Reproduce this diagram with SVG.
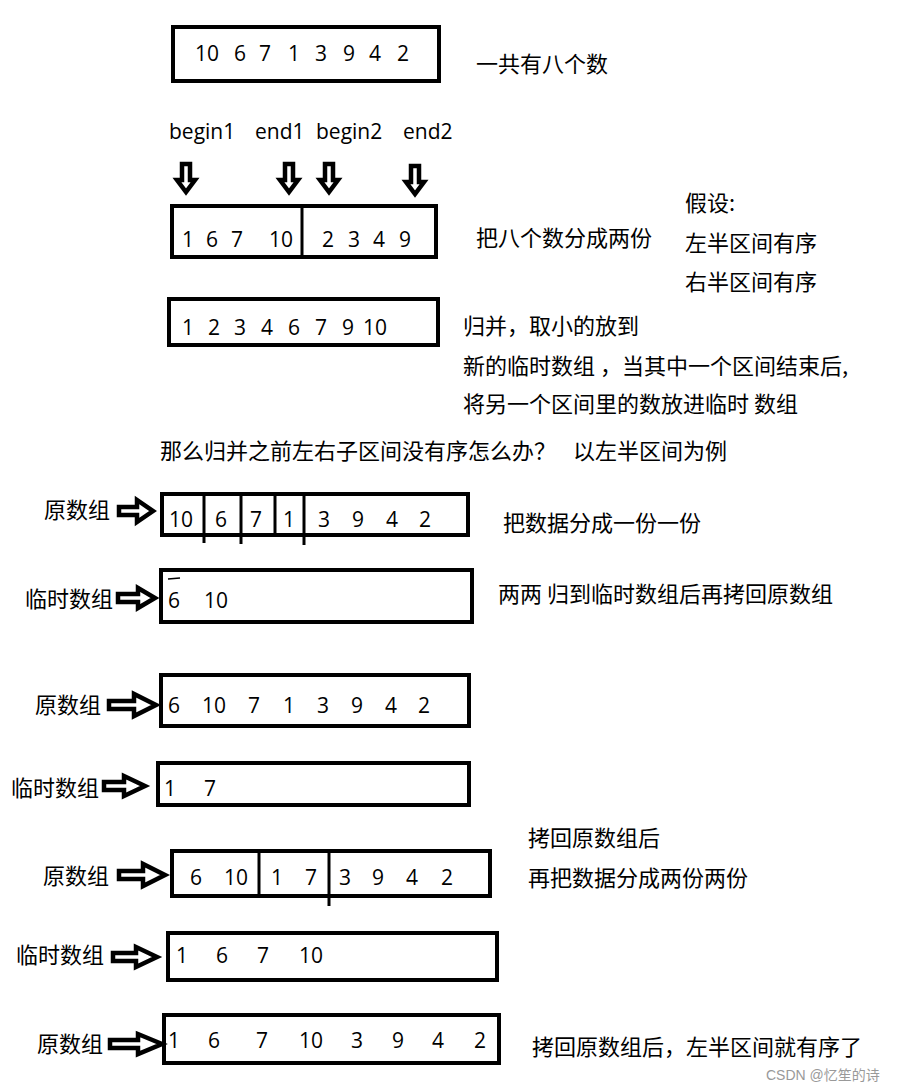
<svg xmlns="http://www.w3.org/2000/svg" width="918" height="1092" viewBox="0 0 918 1092">
<style>
.t{font-family:"Open Sans","Noto Sans CJK SC",sans-serif;font-size:21px;fill:#000}
.c{font-family:"Noto Sans CJK SC",sans-serif;font-size:22px;fill:#000}
.box{fill:none;stroke:#000;stroke-width:4}
.div{stroke:#000;stroke-width:3;fill:none}
.arr{fill:#fff;stroke:#000;stroke-width:4.5;stroke-linejoin:miter}
.wm{font-family:"Liberation Sans","Noto Sans CJK SC",sans-serif;font-size:14px;fill:#999}
</style>
<rect width="918" height="1092" fill="#fff"/>

<g id="box-original">
<rect class="box" x="173" y="27" width="266" height="54"/>
<text class="t" y="61"><tspan x="195">10</tspan><tspan x="234">6</tspan><tspan x="259">7</tspan><tspan x="288">1</tspan><tspan x="315">3</tspan><tspan x="343">9</tspan><tspan x="369">4</tspan><tspan x="397">2</tspan></text>
</g>
<text class="c" x="476" y="72">一共有八个数</text>

<g id="labels-pointers">
<text class="t" font-size="22" y="139"><tspan x="169">begin1</tspan><tspan x="255">end1</tspan><tspan x="316">begin2</tspan><tspan x="403">end2</tspan></text>
</g>

<g id="box-split">
<rect class="box" x="172" y="206" width="264" height="51"/>
<line class="div" x1="302" y1="206" x2="302" y2="257"/>
<text class="t" y="247"><tspan x="182">1</tspan><tspan x="206">6</tspan><tspan x="231">7</tspan><tspan x="269">10</tspan><tspan x="322">2</tspan><tspan x="348">3</tspan><tspan x="373">4</tspan><tspan x="399">9</tspan></text>
</g>
<text class="c" x="476" y="246">把八个数分成两份</text>
<text class="c" x="685" y="211">假设:</text>
<text class="c" x="685" y="251">左半区间有序</text>
<text class="c" x="685" y="290">右半区间有序</text>

<g id="box-merged">
<rect class="box" x="169" y="299" width="269" height="46"/>
<text class="t" y="335"><tspan x="182">1</tspan><tspan x="208">2</tspan><tspan x="234">3</tspan><tspan x="261">4</tspan><tspan x="288">6</tspan><tspan x="315">7</tspan><tspan x="342">9</tspan><tspan x="363">10</tspan></text>
</g>
<text class="c" x="463" y="334">归并，取小的放到</text>
<text class="c" x="463" y="374">新的临时数组 ，当其中一个区间结束后,</text>
<text class="c" x="463" y="412">将另一个区间里的数放进临时 数组</text>
<text class="c" x="160" y="459">那么归并之前左右子区间没有序怎么办？</text>
<text class="c" x="573" y="459">以左半区间为例</text>

<g id="row1">
<text class="c" x="44" y="518">原数组</text>
<rect class="box" x="162" y="494" width="306" height="41"/>
<line class="div" x1="204" y1="494" x2="204" y2="543"/>
<line class="div" x1="241" y1="494" x2="241" y2="544"/>
<line class="div" x1="275" y1="494" x2="275" y2="535"/>
<line class="div" x1="304" y1="494" x2="304" y2="545"/>
<text class="t" y="527"><tspan x="169">10</tspan><tspan x="215">6</tspan><tspan x="250">7</tspan><tspan x="283">1</tspan><tspan x="318">3</tspan><tspan x="352">9</tspan><tspan x="386">4</tspan><tspan x="419">2</tspan></text>
</g>
<text class="c" x="503" y="531">把数据分成一份一份</text>

<g id="row2">
<text class="c" x="25" y="607">临时数组</text>
<rect class="box" x="161" y="570" width="311" height="52"/>
<line x1="168" y1="579" x2="180" y2="578" stroke="#000" stroke-width="1.5"/>
<text class="t" y="608"><tspan x="168">6</tspan><tspan x="204">10</tspan></text>
</g>
<text class="c" x="498" y="602">两两 归到临时数组后再拷回原数组</text>

<g id="row3">
<text class="c" x="35" y="713">原数组</text>
<rect class="box" x="161" y="675" width="308" height="51"/>
<text class="t" y="713"><tspan x="168">6</tspan><tspan x="202">10</tspan><tspan x="248">7</tspan><tspan x="283">1</tspan><tspan x="317">3</tspan><tspan x="351">9</tspan><tspan x="385">4</tspan><tspan x="418">2</tspan></text>
</g>

<g id="row4">
<text class="c" x="11" y="796">临时数组</text>
<rect class="box" x="158" y="763" width="311" height="42"/>
<text class="t" y="796"><tspan x="164">1</tspan><tspan x="204">7</tspan></text>
</g>
<text class="c" x="528" y="846">拷回原数组后</text>
<text class="c" x="528" y="886">再把数据分成两份两份</text>

<g id="row5">
<text class="c" x="43" y="884">原数组</text>
<rect class="box" x="172" y="851" width="318" height="45"/>
<line class="div" x1="259" y1="851" x2="259" y2="896"/>
<line class="div" x1="329" y1="851" x2="329" y2="906"/>
<text class="t" y="885"><tspan x="190">6</tspan><tspan x="224">10</tspan><tspan x="271">1</tspan><tspan x="305">7</tspan><tspan x="339">3</tspan><tspan x="372">9</tspan><tspan x="406">4</tspan><tspan x="441">2</tspan></text>
</g>

<g id="row6">
<text class="c" x="16" y="963">临时数组</text>
<rect class="box" x="168" y="933" width="329" height="47"/>
<text class="t" y="963"><tspan x="176">1</tspan><tspan x="216">6</tspan><tspan x="257">7</tspan><tspan x="299">10</tspan></text>
</g>

<g id="row7">
<text class="c" x="37" y="1052">原数组</text>
<rect class="box" x="164" y="1015" width="335" height="48"/>
<text class="t" y="1048"><tspan x="168">1</tspan><tspan x="208">6</tspan><tspan x="256">7</tspan><tspan x="299">10</tspan><tspan x="351">3</tspan><tspan x="392">9</tspan><tspan x="432">4</tspan><tspan x="474">2</tspan></text>
</g>
<text class="c" x="532" y="1055">拷回原数组后，左半区间就有序了</text>

<g id="connectors">
<path class="arr" d="M182,164 L190,164 L190,180 L195,180 L186,192 L177,180 L182,180 Z"/>
<path class="arr" d="M285,164 L293,164 L293,180 L298,180 L289,192 L280,180 L285,180 Z"/>
<path class="arr" d="M325,164 L333,164 L333,180 L338,180 L329,192 L320,180 L325,180 Z"/>
<path class="arr" d="M411,166 L419,166 L419,182 L424,182 L415,194 L406,182 L411,182 Z"/>
<path class="arr" d="M119,507 L137,507 L137,500 L153,511 L137,522 L137,515 L119,515 Z"/>
<path class="arr" d="M118,594 L138,594 L138,588 L155,598 L138,608 L138,602 L118,602 Z"/>
<path class="arr" d="M109,701 L134,701 L134,694 L156,705 L134,716 L134,709 L109,709 Z"/>
<path class="arr" d="M104,782 L124,782 L124,776 L145,786 L124,796 L124,790 L104,790 Z"/>
<path class="arr" d="M119,871 L143,871 L143,864 L165,875 L143,886 L143,879 L119,879 Z"/>
<path class="arr" d="M113,953 L136,953 L136,947 L157,957 L136,967 L136,961 L113,961 Z"/>
<path class="arr" d="M110,1040 L138,1040 L138,1034 L162,1044 L138,1054 L138,1048 L110,1048 Z"/>
</g>

<text class="wm" x="766" y="1080">CSDN @忆笙的诗</text>
</svg>
